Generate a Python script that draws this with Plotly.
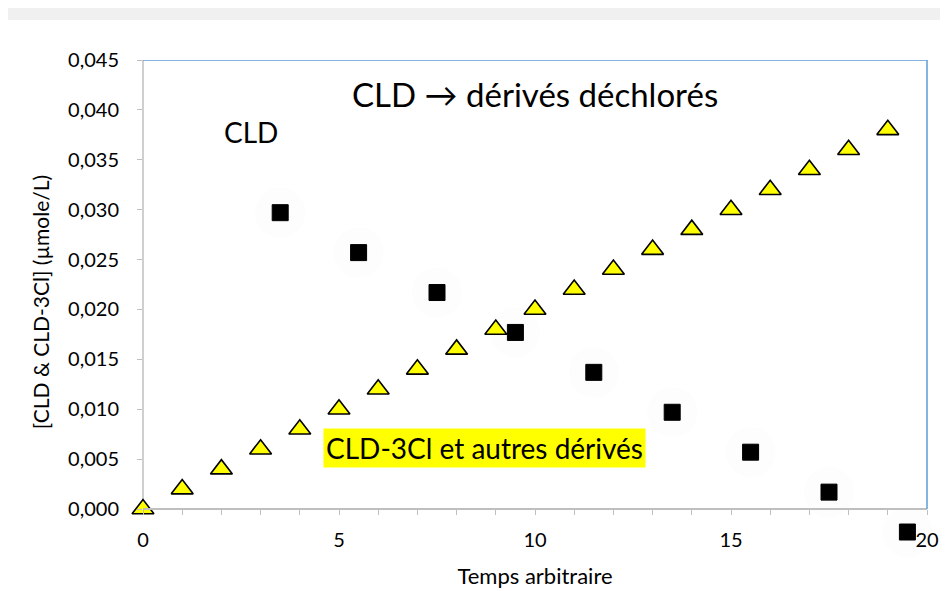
import plotly.graph_objects as go

# CLD-3Cl et autres dérivés (triangles)
t_deriv = list(range(20))
c_deriv = [0.000, 0.002, 0.004, 0.006, 0.008, 0.010, 0.012, 0.014, 0.016, 0.018,
           0.020, 0.022, 0.024, 0.026, 0.028, 0.030, 0.032, 0.034, 0.036, 0.038]

# CLD (carrés)
t_cld = [3.5, 5.5, 7.5, 9.5, 11.5, 13.5, 15.5, 17.5, 19.5]
c_cld = [0.0297, 0.0257, 0.0217, 0.0177, 0.0137, 0.0097, 0.0057, 0.0017, -0.0023]

y_ticks = [0.000, 0.005, 0.010, 0.015, 0.020, 0.025, 0.030, 0.035, 0.040, 0.045]
y_ticktext = ["0,000", "0,005", "0,010", "0,015", "0,020", "0,025", "0,030", "0,035", "0,040", "0,045"]
x_ticks = [0, 5, 10, 15, 20]

FONT = "Lato"
grey = "#bfbfbf"
blue = "#5b9bd5"

# y range extends a little below 0 so the last CLD square stays visible
Y_MIN, Y_MAX = -0.0035, 0.045
x_pos = -Y_MIN / (Y_MAX - Y_MIN)

fig = go.Figure()

# very faint glow behind the squares
fig.add_trace(go.Scatter(
    x=t_cld, y=c_cld, mode="markers", showlegend=False, hoverinfo="skip",
    marker=dict(symbol="circle", size=50, color="#fdfdfd", line=dict(width=0)),
    cliponaxis=False,
))
fig.add_trace(go.Scatter(
    x=t_deriv, y=c_deriv, mode="markers", name="CLD-3Cl et autres dérivés",
    marker=dict(symbol="triangle-up", size=19, color="#ffff00", line=dict(color="black", width=1.6)),
    cliponaxis=False,
))
fig.add_trace(go.Scatter(
    x=t_cld, y=c_cld, mode="markers", name="CLD",
    marker=dict(symbol="square", size=16, color="black", line=dict(color="black", width=1)),
    cliponaxis=False,
))

# white chart area over the grey frame
fig.add_shape(type="rect", xref="paper", yref="paper", x0=-0.1722, x1=1.1, y0=-0.2, y1=1.0826,
              fillcolor="white", line=dict(width=0), layer="below")
# left axis line (grey), top and right borders (blue)
fig.add_shape(type="line", xref="paper", yref="y", x0=0, x1=0, y0=0, y1=Y_MAX,
              line=dict(color=grey, width=1.5), layer="below")
fig.add_shape(type="line", xref="paper", yref="y", x0=0, x1=1, y0=Y_MAX, y1=Y_MAX,
              line=dict(color=blue, width=1.5))
fig.add_shape(type="line", xref="paper", yref="y", x0=1, x1=1, y0=0, y1=Y_MAX,
              line=dict(color=blue, width=1.5))

fig.add_annotation(x=10, y=0.0416, xref="x", yref="y", text="CLD \u2192 dérivés déchlorés",
                   showarrow=False, font=dict(family=FONT, size=33, color="black"))
fig.add_annotation(x=2.75, y=0.0378, xref="x", yref="y", text="CLD",
                   showarrow=False, font=dict(family=FONT, size=28, color="black"))
fig.add_annotation(x=8.71, y=0.0061, xref="x", yref="y", text="CLD-3Cl et autres dérivés",
                   showarrow=False, bgcolor="#ffff00", borderpad=2,
                   font=dict(family=FONT, size=28, color="black"))

fig.update_xaxes(
    range=[0, 20], tickvals=x_ticks, showgrid=False, zeroline=False,
    anchor="free", position=x_pos,
    showline=True, linecolor=grey, linewidth=1.5,
    ticks="outside", ticklen=5, tickcolor=grey, ticklabelstandoff=8,
    minor=dict(dtick=1, ticks="outside", ticklen=5, tickcolor=grey),
    tickfont=dict(family=FONT, size=20, color="black"),
    title=dict(text="Temps arbitraire", font=dict(family=FONT, size=22, color="black"), standoff=18),
)
fig.update_yaxes(
    range=[Y_MIN, Y_MAX], tickvals=y_ticks, ticktext=y_ticktext, showgrid=False, zeroline=False,
    showline=False,
    ticks="outside", ticklen=5, tickcolor=grey, ticklabelstandoff=14,
    tickfont=dict(family=FONT, size=20, color="black"),
    title=dict(text="[CLD & CLD-3Cl] (µmole/L)", font=dict(family=FONT, size=21, color="black"), standoff=12),
)

fig.update_layout(
    width=948, height=591,
    paper_bgcolor="#f0f0f0", plot_bgcolor="rgba(0,0,0,0)",
    showlegend=False,
    margin=dict(l=135, r=29, t=52, b=55),
)

fig.write_html("out.html")
